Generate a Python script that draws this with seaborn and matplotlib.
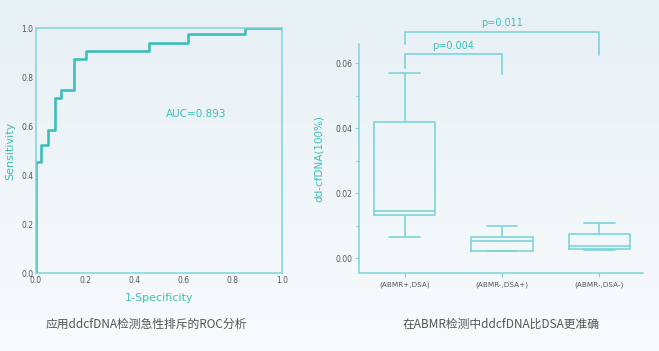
import numpy as np
import pandas as pd
import matplotlib
matplotlib.use("Agg")
import matplotlib.pyplot as plt
import seaborn as sns
from matplotlib.colors import LinearSegmentedColormap

# ---------------- data ----------------
roc_fpr = [0, 0, 0.02, 0.02, 0.05, 0.05, 0.076, 0.076, 0.10, 0.10, 0.154, 0.154,
           0.203, 0.203, 0.46, 0.46, 0.617, 0.617, 0.848, 0.848, 1.0]
roc_tpr = [0, 0.453, 0.453, 0.521, 0.521, 0.584, 0.584, 0.713, 0.713, 0.746, 0.746,
           0.873, 0.873, 0.907, 0.907, 0.94, 0.94, 0.974, 0.974, 1.0, 1.0]
auc_text = "AUC=0.893"

groups = ["(ABMR+,DSA)", "(ABMR-,DSA+)", "(ABMR-,DSA-)"]
# five-number summaries (min, Q1, median, Q3, max)
g1_vals = [0.0065, 0.0133, 0.0146, 0.0418, 0.0571]
g2_vals = [0.0022, 0.0023, 0.0053, 0.0066, 0.0100]
g3_vals = [0.0027, 0.0028, 0.0037, 0.0074, 0.0109]
p_values = ["p=0.004", "p=0.011"]

caption_left = "应用ddcfDNA检测急性排斥的ROC分析"
caption_right = "在ABMR检测中ddcfDNA比DSA更准确"

# ---------------- style ----------------
sns.set_theme(style="white")
plt.rcParams['font.family'] = ['DejaVu Sans', 'Noto Sans CJK SC']

TEAL = "#3cbfb8"
TEAL_L = "#7dd5d8"
GREY = "#555555"

fig = plt.figure(figsize=(6.59, 3.51), dpi=100)

# background gradient
bg = fig.add_axes([0, 0, 1, 1], zorder=-10)
grad = np.linspace(0, 1, 256).reshape(-1, 1)
cmap = LinearSegmentedColormap.from_list("bg", ["#e7f0f5", "#f8fbfd"])
bg.imshow(grad, aspect="auto", cmap=cmap, extent=[0, 1, 0, 1])
bg.axis("off")

# ---------------- ROC panel ----------------
ax1 = fig.add_axes([0.0546, 0.222, 0.3733, 0.698])
ax1.set_facecolor("none")
roc_df = pd.DataFrame({"fpr": roc_fpr, "tpr": roc_tpr})
sns.lineplot(data=roc_df, x="fpr", y="tpr", sort=False, estimator=None,
             color=TEAL, linewidth=1.9, ax=ax1)
ax1.set_xlim(0, 1)
ax1.set_ylim(0, 1)
ax1.set_xticks([0, 0.2, 0.4, 0.6, 0.8, 1.0])
ax1.set_yticks([0, 0.2, 0.4, 0.6, 0.8, 1.0])
ax1.set_xticklabels([f"{v:.1f}" for v in ax1.get_xticks()])
ax1.set_yticklabels([f"{v:.1f}" for v in ax1.get_yticks()])
ax1.tick_params(length=0, labelsize=5.5, labelcolor=GREY, pad=2)
for s in ax1.spines.values():
    s.set_color(TEAL_L)
    s.set_linewidth(1.1)
ax1.set_xlabel("1-Specificity", color=TEAL, fontsize=8, labelpad=6)
ax1.set_ylabel("Sensitivity", color=TEAL, fontsize=8, labelpad=4)
ax1.text(0.527, 0.649, auc_text, color=TEAL, fontsize=7.5, va="center", ha="left",
         transform=ax1.transAxes)
fig.text(0.222, 0.077, caption_left, color=GREY, fontsize=8.5, ha="center", va="center",
         family=['Noto Sans CJK SC', 'DejaVu Sans'])

# ---------------- Box panel ----------------
ax2 = fig.add_axes([0.5448, 0.2214, 0.4309, 0.6532])
ax2.set_facecolor("none")
box_df = pd.DataFrame({
    "group": [groups[0]] * len(g1_vals) + [groups[1]] * len(g2_vals) + [groups[2]] * len(g3_vals),
    "value": g1_vals + g2_vals + g3_vals,
})
sns.boxplot(data=box_df, x="group", y="value", order=groups, width=0.63, fill=False,
            color=TEAL_L, linewidth=1.2, whis=(0, 100), showfliers=False, ax=ax2)
ax2.set_xlim(-0.47, 2.45)
ax2.set_ylim(-0.0046, 0.0659)
ax2.set_yticks([0.0, 0.02, 0.04, 0.06])
ax2.set_yticklabels(["0.00", "0.02", "0.04", "0.06"])
ax2.set_yticks([0.01, 0.03, 0.05], minor=True)
ax2.tick_params(axis="y", which="major", length=3, width=0.8, color=TEAL_L,
                labelsize=5.5, labelcolor=GREY, pad=2, direction="out", left=True)
ax2.tick_params(axis="y", which="minor", length=2, width=0.8, color=TEAL_L, left=True,
                direction="out")
ax2.tick_params(axis="x", length=3, width=0.8, color=TEAL_L, labelsize=5.2,
                labelcolor=GREY, pad=3, direction="out", bottom=True)
sns.despine(ax=ax2)
for s in ["left", "bottom"]:
    ax2.spines[s].set_color(TEAL_L)
    ax2.spines[s].set_linewidth(1.1)
ax2.set_xlabel("")
ax2.set_ylabel("dd-cfDNA(100%)", color=TEAL, fontsize=7.5, labelpad=8)

# significance brackets
def bracket(x0, x1, y, yl, yr, label, ty):
    ax2.plot([x0, x0, x1, x1], [yl, y, y, yr], color=TEAL_L, lw=1.2, clip_on=False)
    ax2.text((x0 + x1) / 2, ty, label, color=TEAL, fontsize=7, ha="center",
             va="center", clip_on=False)

bracket(0, 1, 0.0629, 0.0586, 0.0567, p_values[0], 0.0652)
bracket(0, 2, 0.0697, 0.0658, 0.0626, p_values[1], 0.0723)

fig.text(0.761, 0.077, caption_right, color=GREY, fontsize=8.5, ha="center", va="center",
         family=['Noto Sans CJK SC', 'DejaVu Sans'])

fig.savefig("out.png", dpi=100)
